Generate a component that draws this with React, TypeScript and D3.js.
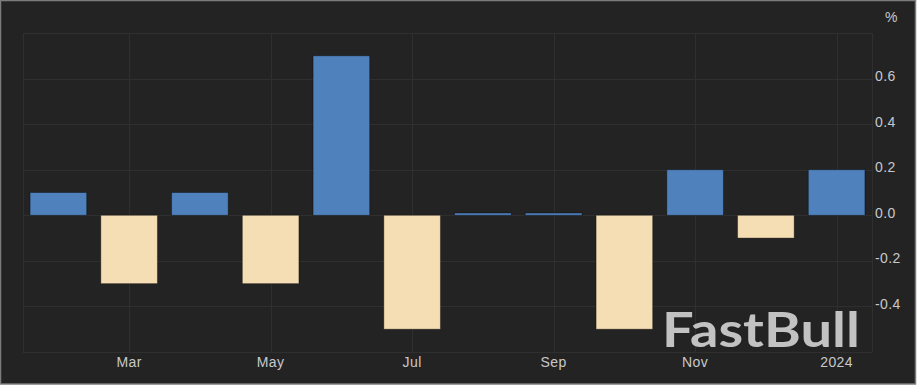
import React, { useEffect, useRef } from "react"
import * as d3 from "d3"

// monthly change, Feb 2023 .. Jan 2024
const months: string[] = [
	"2023-02", "2023-03", "2023-04", "2023-05", "2023-06", "2023-07",
	"2023-08", "2023-09", "2023-10", "2023-11", "2023-12", "2024-01",
]
const values: number[] = [0.1, -0.3, 0.1, -0.3, 0.7, -0.5, 0.01, 0.01, -0.5, 0.2, -0.1, 0.2]
const xTickMonths: string[] = ["2023-03", "2023-05", "2023-07", "2023-09", "2023-11", "2024-01"]
const xTickLabels: string[] = ["Mar", "May", "Jul", "Sep", "Nov", "2024"]
const yTicks: number[] = [-0.4, -0.2, 0, 0.2, 0.4, 0.6]

const W = 917
const H = 386

const App = () => {
	const ref = useRef<SVGSVGElement>(null)

	useEffect(() => {
		document.body.style.margin = "0"

		const left = 23
		const right = 872
		const top = 33
		const bottom = 352

		const svg = d3.select(ref.current).attr("width", W).attr("height", H)
		svg.selectAll("*").remove()

		// background panel with thin grey frame
		svg
			.append("rect")
			.attr("x", 0.5)
			.attr("y", 0.5)
			.attr("width", W - 2)
			.attr("height", H - 2.5)
			.attr("fill", "#232323")
			.attr("stroke", "#7c7c7c")
			.attr("stroke-width", 1.5)

		const x = d3
			.scaleBand<string>()
			.domain(months)
			.range([left, right])
			.paddingInner(0.2)
			.paddingOuter(0.1)

		const y = d3.scaleLinear().domain([-0.6, 0.8]).range([bottom, top])

		const grid = svg.append("g").attr("stroke", "#2f2f2f").attr("stroke-width", 1)

		// horizontal grid
		grid
			.selectAll("line.h")
			.data([-0.6, ...yTicks, 0.8])
			.join("line")
			.attr("class", "h")
			.attr("x1", left)
			.attr("x2", right)
			.attr("y1", d => Math.round(y(d)) + 0.5)
			.attr("y2", d => Math.round(y(d)) + 0.5)

		// vertical grid at month ticks plus edges
		const vx = [left, ...xTickMonths.map(m => (x(m) as number) + x.bandwidth() / 2), right]
		grid
			.selectAll("line.v")
			.data(vx)
			.join("line")
			.attr("class", "v")
			.attr("x1", d => Math.round(d) + 0.5)
			.attr("x2", d => Math.round(d) + 0.5)
			.attr("y1", top)
			.attr("y2", bottom)

		// bars
		svg
			.append("g")
			.selectAll("rect")
			.data(values)
			.join("rect")
			.attr("x", (_, i) => x(months[i]) as number)
			.attr("width", x.bandwidth())
			.attr("y", d => y(Math.max(0, d)))
			.attr("height", d => Math.abs(y(d) - y(0)))
			.attr("fill", d => (d >= 0 ? "#4f81bd" : "#f5deb3"))
			.attr("stroke", "rgba(0,0,0,0.35)")
			.attr("stroke-width", 1)

		// watermark
		svg
			.append("text")
			.attr("x", 662)
			.attr("y", 347)
			.attr("textLength", 198)
			.attr("lengthAdjust", "spacingAndGlyphs")
			.style("font-family", "Lato, 'Open Sans', sans-serif")
			.style("font-weight", 700)
			.style("font-size", "48px")
			.style("fill", "#c2c2c2")
			.text("FastBull")

		const labelStyle = (sel: d3.Selection<any, any, any, any>) =>
			sel
				.style("font-family", "'Liberation Sans', Arial, sans-serif")
				.style("font-size", "14px")
				.style("letter-spacing", "0.4px")
				.style("fill", "#c8c8cc")

		// x axis labels
		svg
			.append("g")
			.selectAll("text")
			.data(xTickMonths)
			.join("text")
			.attr("x", d => (x(d) as number) + x.bandwidth() / 2)
			.attr("y", 367)
			.attr("text-anchor", "middle")
			.text((_, i) => xTickLabels[i])
			.call(labelStyle)

		// y axis labels
		svg
			.append("g")
			.selectAll("text")
			.data(yTicks)
			.join("text")
			.attr("x", 875)
			.attr("y", d => y(d) + 2.5)
			.text(d => d.toFixed(1))
			.call(labelStyle)

		svg
			.append("text")
			.attr("x", 885)
			.attr("y", 22)
			.text("%")
			.call(labelStyle)
	}, [])

	return <svg ref={ref} style={{ display: "block" }}></svg>
}

export default App
